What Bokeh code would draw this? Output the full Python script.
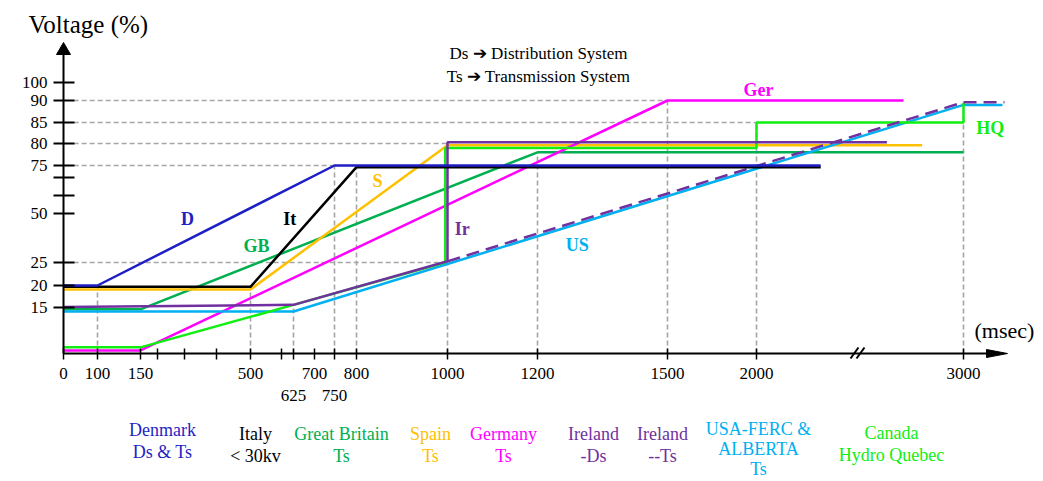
import numpy as np
from bokeh.plotting import figure
from bokeh.models import Range1d, FixedTicker
from bokeh.embed import file_html
from bokeh.resources import INLINE
from bokeh.core.properties import value

# ---------------- data: time (ms) and voltage (%) ----------------
denmark_t = [0, 100, 750, 2310]
denmark_v = [20, 20, 75, 75]
italy_t = [0, 500, 800, 2310]
italy_v = [19.7, 19.7, 74.3, 74.3]
gb_t = [0, 150, 1200, 3000]
gb_v = [14.4, 14.4, 78, 78]
spain_t = [0, 500, 1000, 2800]
spain_v = [19.1, 19.1, 79.6, 79.6]
germany_t = [0, 150, 1500, 2710]
germany_v = [1, 1, 90, 90]
ireland_ds_t = [0, 625, 1000, 1000, 2630]
ireland_ds_v = [15.1, 15.6, 25.6, 80.3, 80.3]
ireland_ts_t = [1000, 3000, 3200]
ireland_ts_v = [25.6, 89.6, 89.6]
usa_t = [0, 625, 3000, 3190]
usa_v = [13.7, 13.7, 89, 89]
hq_t = [0, 150, 625, 995, 995, 2000, 2000, 3000, 3000]
hq_v = [2, 2, 15.6, 25, 79, 79, 85, 85, 89.5]

# dashed guide lines
guide_h_v = [90, 85, 80, 75, 25]
guide_h_t_end = [1500, 2000, 1000, 750, 1000]
guide_v_t = [100, 500, 625, 750, 800, 1000, 1200, 1500, 2000, 3000]
guide_v_top = [20, 19.7, 15.6, 75, 74.3, 25.6, 78, 90, 85, 89.5]

# ticks
x_ticks = [0, 100, 150, 200, 300, 400, 500, 600, 625, 700, 750, 800, 1000, 1200, 1500, 2000, 3000]
x_tick_labels = ["0", "100", "150", "", "", "", "500", "", "\n625", "700", "\n750", "800",
                 "1000", "1200", "1500", "2000", "3000"]
y_ticks = [15, 20, 25, 50, 60, 70, 75, 80, 85, 90, 100]
y_tick_labels = ["15", "20", "25", "50", "", "", "75", "80", "85", "90", "100"]

# series tags (placed in ms / %)
tag_text = ["D", "It", "GB", "S", "Ir", "US", "Ger", "HQ"]
tag_t = [309, 617, 519, 846, 1033, 1292, 2010, 3130]
tag_v = [47.4, 47.4, 33.2, 67.8, 42.3, 33.7, 96, 83.6]

legend_names = [["Denmark", "Ds & Ts"], ["Italy", "< 30kv"], ["Great Britain", "Ts"],
                ["Spain", "Ts"], ["Germany", "Ts"], ["Ireland", "-Ds"], ["Ireland", "--Ts"],
                ["USA-FERC &", "ALBERTA", "Ts"], ["Canada", "Hydro Quebec"]]

# ---------------- styles / layout ----------------
C_DEN = "#1f1fc4"
C_ITA = "#000000"
C_GB = "#00b050"
C_SPA = "#ffc000"
C_GER = "#ff00ff"
C_IRL = "#7030a0"
C_USA = "#00b0f0"
C_HQ = "#11ee11"
tag_colors = [C_DEN, C_ITA, C_GB, C_SPA, C_IRL, C_USA, C_GER, C_HQ]
legend_colors = [C_DEN, C_ITA, C_GB, C_SPA, C_GER, C_IRL, C_IRL, C_USA, C_HQ]
legend_cx = [162, 255, 341, 430, 503, 593, 662, 758, 891]
legend_top = [429, 433, 433, 433, 433, 433, 433, 428, 432]
legend_step = [22, 22, 22, 22, 22, 22, 22, 20, 22]

# schematic (non-linear) axis scales: value -> page position
XK_MS = [0, 100, 150, 200, 300, 400, 500, 600, 625, 700, 750, 800, 1000, 1200, 1500, 2000, 3000, 3200]
XK_PX = [63, 97, 140, 157, 184, 216, 250, 281, 293, 314, 334, 356, 447, 537, 667, 756, 963, 1004]
YK_V = [0, 15, 20, 25, 50, 60, 70, 75, 80, 85, 90, 100]
YK_PX = [353, 307, 285, 262, 213, 195, 177, 165, 143, 122, 100, 82]


def X(t):
    return np.interp(np.asarray(t, dtype=float), XK_MS, XK_PX)


def Y(v):
    return np.interp(np.asarray(v, dtype=float), YK_V, YK_PX)


SERIF = "Liberation Serif"
W, H = 1043, 481
p = figure(width=W, height=H, x_range=Range1d(0, W), y_range=Range1d(H, 0),
           output_backend="svg", toolbar_location=None, min_border=0, title=None)
p.outline_line_color = None
p.grid.visible = False

x0 = float(X(0))
y0 = float(Y(0))
X_AXIS_END = 990
Y_AXIS_TOP = 50

# x axis
xa = p.xaxis[0]
xa.fixed_location = y0
xa.bounds = (x0, X_AXIS_END)
xt = [float(v) for v in X(x_ticks)]
xa.ticker = FixedTicker(ticks=xt)
xa.major_label_overrides = {k: lab for k, lab in zip(xt, x_tick_labels)}
xa.axis_line_width = 2
xa.major_tick_in = 5
xa.major_tick_out = 6
xa.major_tick_line_width = 1.5
xa.minor_tick_line_color = None
xa.major_label_standoff = 4
xa.major_label_text_font = SERIF
xa.major_label_text_font_size = "17px"
xa.major_label_text_color = "black"

# y axis
ya = p.yaxis[0]
ya.fixed_location = x0
ya.bounds = (Y_AXIS_TOP, y0)
yt = [float(v) for v in Y(y_ticks)]
ya.ticker = FixedTicker(ticks=yt)
ya.major_label_overrides = {k: lab for k, lab in zip(yt, y_tick_labels)}
ya.axis_line_width = 2
ya.major_tick_in = 11
ya.major_tick_out = 10
ya.major_tick_line_width = 2
ya.minor_tick_line_color = None
ya.major_label_standoff = 6
ya.major_label_text_font = SERIF
ya.major_label_text_font_size = "17px"
ya.major_label_text_color = "black"

# arrow heads and axis break
p.patch([x0, x0 - 7, x0 + 7], [Y_AXIS_TOP - 8, Y_AXIS_TOP + 4, Y_AXIS_TOP + 4], color="black")
p.patch([X_AXIS_END + 17, X_AXIS_END - 4, X_AXIS_END - 4], [y0, y0 - 4, y0 + 4], color="black")
p.segment(x0=[850, 856], y0=[y0 + 5, y0 + 5], x1=[858, 864], y1=[y0 - 6, y0 - 6],
          line_width=2, color="black")

# dashed guides
GCOL = "#a6a6a6"
gx_start = float(X(30))
p.segment(x0=[gx_start] * len(guide_h_v), y0=Y(guide_h_v), x1=X(guide_h_t_end), y1=Y(guide_h_v),
          line_color=GCOL, line_width=1.6, line_dash="5 3")
p.segment(x0=X(guide_v_t), y0=[y0] * len(guide_v_t), x1=X(guide_v_t), y1=Y(guide_v_top),
          line_color=GCOL, line_width=1.6, line_dash="5 3")

LW = 2.5
p.line(X(gb_t), Y(gb_v), line_color=C_GB, line_width=LW)
p.line(X(spain_t), Y(spain_v), line_color=C_SPA, line_width=LW)
p.line(X(germany_t), Y(germany_v), line_color=C_GER, line_width=LW)
p.line(X(usa_t), Y(usa_v), line_color=C_USA, line_width=LW)
p.line(X(hq_t), Y(hq_v), line_color=C_HQ, line_width=LW)
p.line(X(ireland_ts_t), Y(ireland_ts_v), line_color=C_IRL, line_width=LW, line_dash="13 7")
p.line(X(ireland_ds_t), Y(ireland_ds_v), line_color=C_IRL, line_width=LW)
p.line(X(italy_t), Y(italy_v), line_color=C_ITA, line_width=LW)
p.line(X(denmark_t), Y(denmark_v), line_color=C_DEN, line_width=LW)

# series tags
p.text(x=X(tag_t), y=Y(tag_v), text=tag_text, text_color=tag_colors,
       text_font=value(SERIF), text_font_size=value("18px"), text_font_style="bold",
       text_align="center", text_baseline="middle")

# titles
p.text(x=[28], y=[24], text=["Voltage (%)"], text_font=value(SERIF), text_font_size=value("25px"),
       text_align="left", text_baseline="middle", text_color="black")
p.text(x=[974], y=[330], text=["(msec)"], text_font=value(SERIF), text_font_size=value("22px"),
       text_align="left", text_baseline="middle", text_color="black")
p.text(x=[538, 538], y=[53, 76], text=["Ds \u2794 Distribution System", "Ts \u2794 Transmission System"],
       text_font=value(SERIF), text_font_size=value("17px"), text_align="center",
       text_baseline="middle", text_color="black")

# bottom legend
lx, ly, lt, lc = [], [], [], []
for cx, top, step, names, col in zip(legend_cx, legend_top, legend_step, legend_names, legend_colors):
    for i, s in enumerate(names):
        lx.append(cx)
        ly.append(top + i * step)
        lt.append(s)
        lc.append(col)
p.text(x=lx, y=ly, text=lt, text_color=lc, text_font=value(SERIF), text_font_size=value("18px"),
       text_align="center", text_baseline="middle")

open("out.html", "w").write(file_html(p, INLINE))
